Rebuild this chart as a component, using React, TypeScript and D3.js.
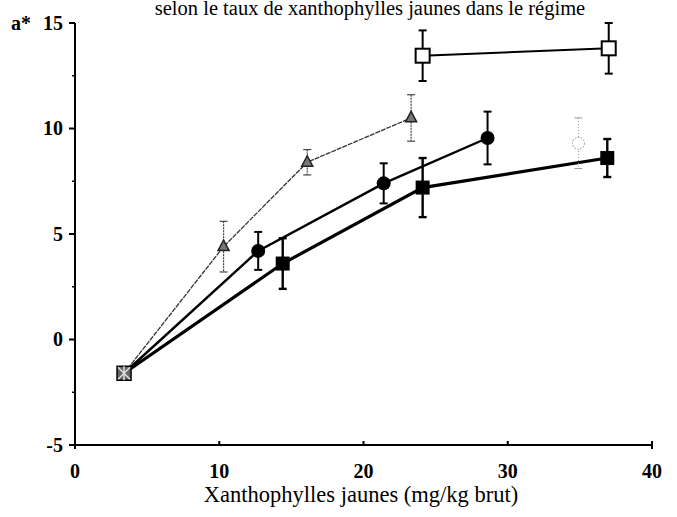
import React from "react";
import * as d3 from "d3";

// values
const triX = [3.4, 10.3, 16.1, 23.3];
const triY = [-1.6, 4.4, 8.4, 10.5];
const triErr = [0, 1.2, 0.6, 1.1];

const circX = [3.4, 12.7, 21.4, 28.6];
const circY = [-1.6, 4.2, 7.4, 9.55];
const circErr = [0, 0.9, 0.95, 1.25];

const sqX = [3.4, 14.4, 24.1, 36.9];
const sqY = [-1.6, 3.6, 7.2, 8.6];
const sqErr = [0, 1.2, 1.4, 0.9];

const openSqX = [24.1, 37.0];
const openSqY = [13.45, 13.8];
const openSqErr = [1.2, 1.2];

const openCircX = [34.9];
const openCircY = [9.3];
const openCircErr = [1.2];

const xTicks = [0, 10, 20, 30, 40];
const yTicks = [-5, 0, 5, 10, 15];
const yMinor = [-2.5, 2.5, 7.5, 12.5];

const title = "selon le taux de xanthophylles jaunes dans le régime";
const xTitle = "Xanthophylles jaunes (mg/kg brut)";
const yTitle = "a*";

const serif = "Liberation Serif, Times New Roman, DejaVu Serif, serif";

const zip = (xs: number[], ys: number[], es: number[]) =>
  xs.map((x, i) => ({ x, y: ys[i], e: es[i] }));

export default function App() {
  const x = d3.scaleLinear().domain([0, 40]).range([75, 652]);
  const y = d3.scaleLinear().domain([-5, 15]).range([445, 23]);
  const line = d3
    .line<{ x: number; y: number }>()
    .x((d) => x(d.x))
    .y((d) => y(d.y));

  const tri = zip(triX, triY, triErr);
  const circ = zip(circX, circY, circErr);
  const sq = zip(sqX, sqY, sqErr);
  const osq = zip(openSqX, openSqY, openSqErr);
  const ocirc = zip(openCircX, openCircY, openCircErr);

  const errBar = (
    d: { x: number; y: number; e: number },
    key: string,
    stroke: string,
    width: number,
    dash?: string
  ) => {
    if (!d.e) return null;
    const cx = x(d.x);
    const t = y(d.y + d.e);
    const b = y(d.y - d.e);
    return (
      <g key={key} stroke={stroke} strokeWidth={width}>
        <line x1={cx} x2={cx} y1={t} y2={b} strokeDasharray={dash} />
        <line x1={cx - 4} x2={cx + 4} y1={t} y2={t} />
        <line x1={cx - 4} x2={cx + 4} y1={b} y2={b} />
      </g>
    );
  };

  const triPath = (cx: number, cy: number, s: number) =>
    `M${cx},${cy - s}L${cx + s * 0.85},${cy + s * 0.6}L${cx - s * 0.85},${cy + s * 0.6}Z`;

  return (
    <svg width={677} height={517} style={{ position: "absolute", left: 0, top: 0, background: "#fff" }}>
      <rect width={677} height={517} fill="#fff" />
      <text x={370} y={15} textAnchor="middle" style={{ fontFamily: serif }} fontSize={20.5}>
        {title}
      </text>

      {/* axes */}
      <g stroke="#000" strokeWidth={2} fill="none">
        <line x1={x(0)} x2={x(0)} y1={y(15)} y2={y(-5) + 4} />
        <line x1={x(0)} x2={x(40)} y1={y(-5)} y2={y(-5)} />
        {yTicks.map((t) => (
          <line key={"yt" + t} x1={x(0) - 6} x2={x(0)} y1={y(t)} y2={y(t)} />
        ))}
        {yMinor.map((t) => (
          <line key={"ym" + t} x1={x(0) - 3} x2={x(0)} y1={y(t)} y2={y(t)} strokeWidth={1.5} />
        ))}
        {xTicks.map((t) => (
          <line key={"xt" + t} x1={x(t)} x2={x(t)} y1={y(-5) - 4} y2={y(-5) + (t === 40 ? 4 : 0)} />
        ))}
      </g>
      <g style={{ fontFamily: serif }} fontSize={20} fontWeight="bold">
        {yTicks.map((t) => (
          <text key={"yl" + t} x={63} y={y(t)} dy="0.33em" textAnchor="end">
            {t}
          </text>
        ))}
        {xTicks.map((t) => (
          <text key={"xl" + t} x={x(t)} y={478} textAnchor="middle">
            {t}
          </text>
        ))}
        <text x={11} y={y(15)} dy="0.33em">
          {yTitle}
        </text>
      </g>
      <text x={361} y={502} textAnchor="middle" style={{ fontFamily: serif }} fontSize={22.5}>
        {xTitle}
      </text>

      {/* lines */}
      <path d={line(tri) ?? ""} fill="none" stroke="#333" strokeWidth={1.3} strokeDasharray="5,1" />
      <path d={line(circ) ?? ""} fill="none" stroke="#000" strokeWidth={2.4} />
      <path d={line(sq) ?? ""} fill="none" stroke="#000" strokeWidth={3.2} />
      <path d={line(osq) ?? ""} fill="none" stroke="#000" strokeWidth={2} />

      {/* error bars */}
      {tri.map((d, i) => errBar(d, "te" + i, "#444", 1.2, "2,1"))}
      {circ.map((d, i) => errBar(d, "ce" + i, "#000", 2))}
      {sq.map((d, i) => errBar(d, "se" + i, "#000", 2.4))}
      {osq.map((d, i) => errBar(d, "oe" + i, "#000", 2))}
      {ocirc.map((d, i) => errBar(d, "ocE" + i, "#999", 1, "1,2"))}

      {/* markers */}
      {tri.slice(1).map((d, i) => (
        <path key={"tm" + i} d={triPath(x(d.x), y(d.y), 6.5)} fill="#777" stroke="#222" strokeWidth={1.5} />
      ))}
      {circ.slice(1).map((d, i) => (
        <circle key={"cm" + i} cx={x(d.x)} cy={y(d.y)} r={7} fill="#000" />
      ))}
      {sq.slice(1).map((d, i) => (
        <rect key={"sm" + i} x={x(d.x) - 7} y={y(d.y) - 7} width={14} height={14} fill="#000" />
      ))}
      {osq.map((d, i) => (
        <rect key={"om" + i} x={x(d.x) - 7} y={y(d.y) - 7} width={14} height={14} fill="#fff" stroke="#000" strokeWidth={2} />
      ))}
      {ocirc.map((d, i) => (
        <circle key={"ocm" + i} cx={x(d.x)} cy={y(d.y)} r={6} fill="#fff" stroke="#888" strokeWidth={1} strokeDasharray="1.5,1.5" />
      ))}

      {/* shared starting point, all markers overlapping */}
      <g transform={`translate(${x(sqX[0])},${y(sqY[0])})`}>
        <rect x={-7} y={-7} width={14} height={14} fill="#666" stroke="#000" strokeWidth={1.5} />
        <path d="M-6,-6L6,6M6,-6L-6,6M0,-7L0,7" stroke="#ddd" strokeWidth={1.5} />
      </g>
    </svg>
  );
}
